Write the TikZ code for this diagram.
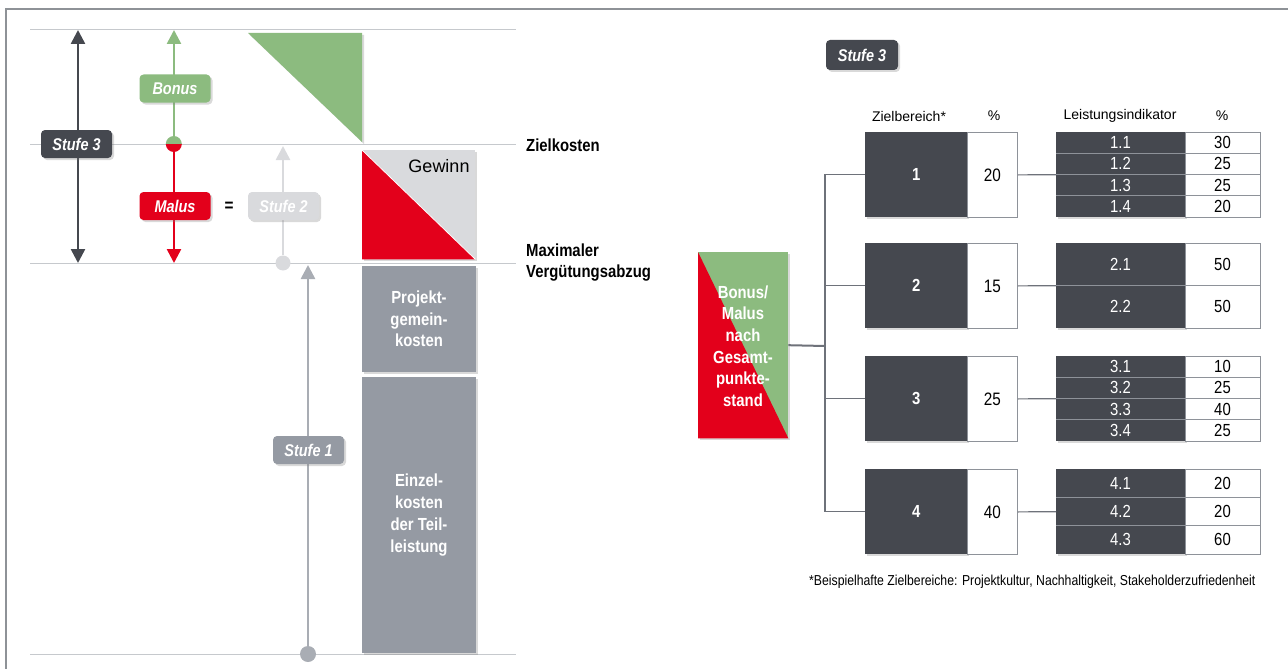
\documentclass[tikz,border=0pt]{standalone}
\usepackage{fontspec}
\setmainfont{Liberation Sans}
\newfontfamily\nar[FakeStretch=0.85]{Liberation Sans}
\usetikzlibrary{arrows.meta,shadows}
\definecolor{dk}{HTML}{45484F}
\definecolor{gn}{HTML}{8CBB7F}
\definecolor{rd}{HTML}{E3001B}
\definecolor{lg}{HTML}{D9DADD}
\definecolor{gb}{HTML}{959AA3}
\definecolor{sone}{HTML}{A9ADB4}
\definecolor{guide}{HTML}{C6C9CD}
\definecolor{tree}{HTML}{6E727A}
\definecolor{cellb}{HTML}{8E9299}
\definecolor{framec}{HTML}{8E9297}
\tikzset{
  shad/.style={drop shadow={shadow xshift=2pt,shadow yshift=-2pt,opacity=0.3}},
  lbl/.style={rounded corners=4pt,minimum width=71pt,minimum height=28pt,inner sep=0pt,
    text=white,font=\nar\bfseries\itshape\fontsize{17}{17}\selectfont,shad},
  guideline/.style={guide,line width=1pt},
  tip/.style={-{Triangle[width=14pt,length=14pt]}},
  whitebold/.style={text=white,align=center,font=\nar\bfseries\fontsize{17.5}{21.7}\selectfont},
  blackbold/.style={text=black,align=left,font=\nar\bfseries\fontsize{17.5}{21}\selectfont},
  gbox/.style={fill=gb,minimum width=114pt,inner sep=0pt,anchor=north west,shad},
  zb/.style={fill=dk,minimum width=102pt,minimum height=85pt,inner sep=0pt,anchor=north west,shad,
    text=white,font=\nar\bfseries\fontsize{17.5}{17.5}\selectfont},
  pc/.style={fill=white,draw=cellb,line width=0.8pt,minimum width=50pt,minimum height=85pt,inner sep=0pt,
    anchor=north west,font=\nar\fontsize{18}{18}\selectfont},
  tdark/.style={fill=dk,minimum width=129pt,minimum height=85pt,inner sep=0pt,anchor=north west,shad},
  twhite/.style={fill=white,draw=cellb,line width=0.8pt,minimum width=75pt,minimum height=85pt,inner sep=0pt,anchor=north west},
  cellt/.style={text=white,inner sep=0pt,font=\nar\fontsize{17.5}{17.5}\selectfont},
  cellv/.style={text=black,inner sep=0pt,font=\nar\fontsize{17.5}{17.5}\selectfont},
  sepl/.style={cellb,line width=0.8pt},
  hdr/.style={text=black,inner sep=0pt,font=\fontsize{14}{14}\selectfont},
  treeline/.style={tree,line width=1.2pt},
}
\newcommand{\indtable}[4]{%
  \node[tdark] (t#1) at (1056,#2) {};
  \node[twhite] (w#1) at (1185,#2) {};
  \foreach \lab/\val [count=\k] in {#4} {
    \pgfmathsetmacro\yc{#2+85/#3*(\k-0.5)}
    \node[cellt] (l#1-\k) at (1120.5,\yc) {\lab};
    \node[cellv] (v#1-\k) at (1222.5,\yc) {\val};
    \ifnum\k<#3\relax
      \pgfmathsetmacro\ys{#2+85/#3*\k}
      \draw[sepl] (1056,\ys) -- (1260,\ys);
    \fi
  }
}
\begin{document}
\begin{tikzpicture}[x=1pt,y=-1pt]
\useasboundingbox (0,0) rectangle (1288,669);
% frame
\draw[framec,line width=1.5pt] (6,669) -- (6,9) -- (1288,9);
% guide lines
\foreach \yy in {30,144,263,654} \draw[guideline] (30,\yy) -- (516,\yy);

% Stufe 3 arrow
\coordinate (s3t) at (78,30);
\coordinate (s3b) at (78,263);
\draw[dk,line width=2.6pt,{Triangle[width=14pt,length=14pt]}-{Triangle[width=14pt,length=14pt]}] (s3b) -- (s3t);
\node[lbl,fill=dk] (s3) at (76.5,144) {Stufe 3};

% Bonus / Malus arrows
\node[circle,minimum size=16pt,inner sep=0pt] (bm) at (174,144) {};
\coordinate (bt) at (174,30);
\coordinate (mb) at (174,263);
\draw[gn,line width=2.6pt,tip] (bm.center) -- (bt);
\draw[rd,line width=2.6pt,tip] (bm.center) -- (mb);
\fill[gn] (bm.west) arc[start angle=180,end angle=360,radius=8] -- cycle;
\fill[rd] (bm.west) arc[start angle=180,end angle=0,radius=8] -- cycle;
\node[lbl,fill=gn] (bonus) at (175,88.5) {Bonus};
\node[lbl,fill=rd] (malus) at (175,206) {Malus};
\node[font=\nar\bfseries\fontsize{18}{18}\selectfont,inner sep=0pt] (eq) at (229,207) {=};

% Stufe 2
\node[circle,fill=lg,minimum size=15pt,inner sep=0pt] (s2c) at (283,263) {};
\coordinate (s2t) at (283,146);
\draw[lg,line width=2.6pt,tip] (s2c) -- (s2t);
\node[lbl,fill=lg] (s2) at (283.5,206) {Stufe 2};

% Stufe 1
\node[circle,fill=sone,minimum size=16pt,inner sep=0pt] (s1c) at (308,654) {};
\coordinate (s1t) at (308,265);
\draw[sone,line width=2.6pt,tip] (s1c) -- (s1t);
\node[lbl,fill=gb] (s1) at (308.5,450) {Stufe 1};

% green triangle
\fill[black,opacity=0.15] (250,35) -- (364,35) -- (364,144) -- cycle;
\fill[gn] (248,33) -- (362,33) -- (362,142) -- cycle;

% Gewinn box
\node[minimum width=113pt,minimum height=109pt,inner sep=0pt,anchor=north west,fill=lg,shad] (gw) at (362,150) {};
\fill[rd] (gw.north west) -- (gw.south west) -- (gw.south east) -- cycle;
\draw[white,line width=0.8pt] (gw.north west) -- (gw.south east);
\node[font=\fontsize{18}{18}\selectfont,inner sep=0pt] (gwt) at (439,166) {Gewinn};

% cost boxes
\node[gbox,minimum height=106pt] (pgk) at (362,266) {};
\node[whitebold] (pgkt) at (419,319) {Projekt-\\gemein-\\kosten};
\node[gbox,minimum height=276pt] (ezk) at (362,377) {};
\node[whitebold] (ezkt) at (419,515) {Einzel-\\kosten\\der Teil-\\leistung};

% level labels
\node[blackbold,anchor=west,inner sep=0pt] (zk) at (526,145) {Zielkosten};
\node[blackbold,anchor=west,inner sep=0pt] (mv) at (526,262.5) {Maximaler\\Vergütungsabzug};

% ---------- right part ----------
\node[lbl,fill=dk,minimum width=72pt,minimum height=30pt] (rs3) at (862,55) {Stufe 3};

\node[hdr] (h1) at (909,116) {Zielbereich*};
\node[hdr] (h2) at (994,116) {\%};
\node[hdr] (h3) at (1120,116) {Leistungsindikator};
\node[hdr] (h4) at (1222,116) {\%};

% Bonus/Malus box
\node[minimum width=90pt,minimum height=186pt,inner sep=0pt,anchor=north west,fill=gn,shad] (bmb) at (698,252) {};
\fill[rd] (bmb.north west) -- (bmb.south west) -- (bmb.south east) -- cycle;
\node[whitebold,font=\nar\bfseries\fontsize{17.5}{21.6}\selectfont] (bmt) at (743,346) {Bonus/\\Malus\\nach\\Gesamt-\\punkte-\\stand};

% Zielbereiche
\foreach \i/\y/\p in {1/132/20,2/243/15,3/356/25,4/469/40} {
  \node[zb] (z\i) at (865,\y) {\i};
  \node[pc] (p\i) at (967,\y) {\p};
}

% tree
\coordinate (tj) at (825,346);
\draw[tree,line width=2pt] (bmb.east) -- (tj);
\draw[treeline] (z1.west) -- (z1.west -| tj) -- (z4.west -| tj) -- (z4.west);
\draw[treeline] (z2.west) -- (z2.west -| tj);
\draw[treeline] (z3.west) -- (z3.west -| tj);

% indicator tables
\indtable{1}{132}{4}{1.1/30,1.2/25,1.3/25,1.4/20}
\indtable{2}{243}{2}{2.1/50,2.2/50}
\indtable{3}{356}{4}{3.1/10,3.2/25,3.3/40,3.4/25}
\indtable{4}{469}{3}{4.1/20,4.2/20,4.3/60}

\foreach \i in {1,2,3,4} \draw[treeline] (p\i.east) -- (t\i.west);

% footnote
\node[anchor=west,inner sep=0pt,font=\nar\fontsize{14.4}{14.4}\selectfont] (fn) at (809,582) {*Beispielhafte Zielbereiche: Projektkultur, Nachhaltigkeit, Stakeholderzufriedenheit};
\end{tikzpicture}
\end{document}
